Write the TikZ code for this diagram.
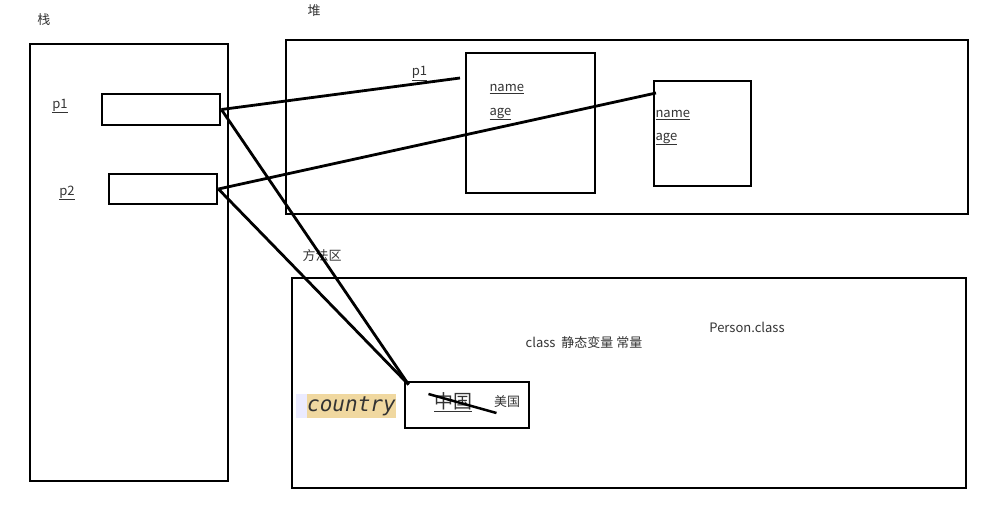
\documentclass[tikz,border=0pt]{standalone}
\usepackage{fontspec}
\setmainfont{Noto Sans CJK SC}
\newfontfamily\codefont{DejaVu Sans Mono}
\definecolor{hilite}{RGB}{240,216,160}
\begin{document}
\begin{tikzpicture}[x=1pt, y=-1pt, every node/.style={font=\fontsize{13}{15}\selectfont, text=black!80},
  box/.style={draw, line width=2.8pt, inner sep=0pt},
  link/.style={line width=2.8pt}]
\useasboundingbox (0,0) rectangle (989,507);
% stack
\node (stacklbl) at (44,20) {栈};
\node[box,minimum width=198,minimum height=437] (stack) at (129,262.5) {};
\node[box,minimum width=118,minimum height=31] (p1box) at (161,109.5) {};
\node[box,minimum width=108,minimum height=30] (p2box) at (163,189) {};
\node (p1lbl) at (60,106) {\underline{p1}};
\node (p2lbl) at (67,193) {\underline{p2}};
% heap
\node (heaplbl) at (314,11) {堆};
\node[box,minimum width=682,minimum height=174] (heap) at (627,127) {};
\node[box,minimum width=129,minimum height=140] (obj1) at (530.5,123) {};
\node[box,minimum width=97,minimum height=105] (obj2) at (702.5,133.5) {};
\node[anchor=west] (name1) at (486,89) {\underline{name}};
\node[anchor=west] (age1) at (486,114) {\underline{age}};
\node[anchor=west] (name2) at (652,115) {\underline{name}};
\node[anchor=west] (age2) at (652,139) {\underline{age}};
\coordinate (obj1in) at (460,78);
\coordinate (obj2in) at (656,93);
\draw[link] (p1box.east) -- (obj1in) node[pos=0.83,above,inner sep=1pt] (p1ref) {\underline{p1}};
\draw[link] (p2box.east) -- (obj2in);
% method area
\node (methodlbl) at (322,256) {方法区};
\node[box,minimum width=674,minimum height=210] (method) at (629,383) {};
\node (classlbl) at (584,343) {class\ \ 静态变量 常量};
\node (personlbl) at (747,327) {Person.class};
\fill[blue!8] (296,394) rectangle (307,418);
\node[fill=hilite, inner sep=0pt, minimum height=24, anchor=west] (country) at (307,406)
  {\codefont\itshape\fontsize{21}{21}\selectfont country};
\node[box,minimum width=124,minimum height=46] (valbox) at (467,405) {};
\node (cn) at (453,402) {\fontsize{19}{19}\selectfont\underline{中国}};
\node (us) at (507,402) {美国};
\draw[line width=2.5pt] (cn.west) ++(-2,-8) -- ++(68,19);
\coordinate (valin) at ([shift={(5,4)}]valbox.north west);
\draw[link] (p1box.east) -- (valin);
\draw[link] (p2box.east) -- (valin);
\end{tikzpicture}
\end{document}
